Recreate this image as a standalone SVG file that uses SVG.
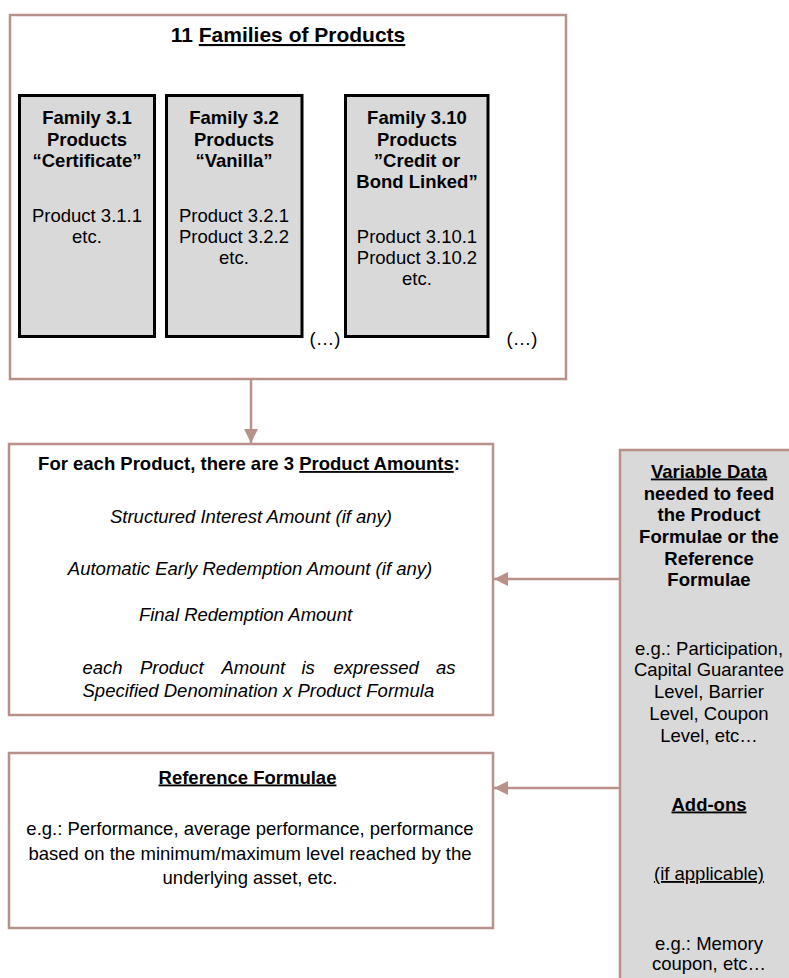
<svg xmlns="http://www.w3.org/2000/svg" width="789" height="978" viewBox="0 0 789 978">
<defs>
<style>
.box{fill:#ffffff;stroke:#b8928a;stroke-width:2.5}
.side{fill:#d9d9d9;stroke:#b8928a;stroke-width:2.5}
.fam{fill:#d9d9d9;stroke:#000000;stroke-width:3}
.conn{stroke:#b8928a;stroke-width:2.5;fill:none}
text{font-family:"Liberation Sans",Arial,sans-serif;font-size:18.5px;fill:#000000;text-anchor:middle}
.b{font-weight:bold}
.i{font-style:italic}
.t{font-size:21px;font-weight:bold}
.u{text-decoration:underline}
.l{text-anchor:start}
</style>
<marker id="ah" viewBox="0 0 10 10" refX="10" refY="5" markerWidth="14" markerHeight="14" markerUnits="userSpaceOnUse" orient="auto">
<path d="M0,0 L10,5 L0,10 z" fill="#b8928a"/>
</marker>
</defs>

<g id="families">
<rect class="box" x="10" y="15" width="556" height="364"/>
<text class="t" x="288" y="42">11 <tspan class="u">Families of Products</tspan></text>
</g>

<g id="family31">
<rect class="fam" x="19.5" y="95.5" width="135" height="241"/>
<text class="b" x="87" y="124">Family 3.1</text>
<text class="b" x="87" y="145.5">Products</text>
<text class="b" x="87" y="166.5">“Certificate”</text>
<text x="87" y="221.5">Product 3.1.1</text>
<text x="87" y="242.5">etc.</text>
</g>

<g id="family32">
<rect class="fam" x="166.5" y="95.5" width="135.5" height="241"/>
<text class="b" x="234" y="124">Family 3.2</text>
<text class="b" x="234" y="145.5">Products</text>
<text class="b" x="234" y="166.5">“Vanilla”</text>
<text x="234" y="221.5">Product 3.2.1</text>
<text x="234" y="242.5">Product 3.2.2</text>
<text x="234" y="264">etc.</text>
</g>

<g id="family310">
<rect class="fam" x="345.5" y="95.5" width="142.5" height="241"/>
<text class="b" x="417" y="124">Family 3.10</text>
<text class="b" x="417" y="145.5">Products</text>
<text class="b" x="417" y="166.5">”Credit or</text>
<text class="b" x="417" y="187.5">Bond Linked”</text>
<text x="417" y="242.5">Product 3.10.1</text>
<text x="417" y="263.5">Product 3.10.2</text>
<text x="417" y="285">etc.</text>
</g>

<g id="ellipses">
<text x="325" y="345">(…)</text>
<text x="522" y="345">(…)</text>
</g>

<g id="amounts">
<rect class="box" x="9" y="444" width="484" height="271"/>
<text class="b" x="249" y="470">For each Product, there are 3 <tspan class="u">Product Amounts</tspan>:</text>
<text class="i" x="251" y="523">Structured Interest Amount (if any)</text>
<text class="i" x="250" y="575">Automatic Early Redemption Amount (if any)</text>
<text class="i" x="245.5" y="620.5">Final Redemption Amount</text>
<text class="i l" y="674"><tspan x="82.5">each</tspan><tspan x="140">Product</tspan><tspan x="221.5">Amount</tspan><tspan x="301.5">is</tspan><tspan x="333.5">expressed</tspan><tspan x="436">as</tspan></text>
<text class="i l" x="82.5" y="697">Specified Denomination x Product Formula</text>
</g>

<g id="reference">
<rect class="box" x="9" y="753" width="484" height="175"/>
<text class="b u" x="247.5" y="783.5">Reference Formulae</text>
<text x="250" y="834.5">e.g.: Performance, average performance, performance</text>
<text x="250" y="860">based on the minimum/maximum level reached by the</text>
<text x="250" y="883.5">underlying asset, etc.</text>
</g>

<g id="variable">
<rect class="side" x="620" y="450" width="185" height="545"/>
<text class="b" x="709" y="477.5"><tspan class="u">Variable Data</tspan></text>
<text class="b" x="709" y="499.5">needed to feed</text>
<text class="b" x="709" y="521">the Product</text>
<text class="b" x="709" y="542.5">Formulae or the</text>
<text class="b" x="709" y="564.5">Reference</text>
<text class="b" x="709" y="586">Formulae</text>
<text x="709" y="654.5">e.g.: Participation,</text>
<text x="709" y="676">Capital Guarantee</text>
<text x="709" y="698">Level, Barrier</text>
<text x="709" y="720">Level, Coupon</text>
<text x="709" y="741.5">Level, etc…</text>
<text class="b u" x="709" y="810.5">Add-ons</text>
<text class="u" x="709" y="880">(if applicable)</text>
<text x="709" y="950">e.g.: Memory</text>
<text x="709" y="970">coupon, etc…</text>
</g>

<g id="connectors">
<line class="conn" x1="251" y1="379" x2="251" y2="443" marker-end="url(#ah)"/>
<line class="conn" x1="620" y1="579" x2="494" y2="579" marker-end="url(#ah)"/>
<line class="conn" x1="620" y1="788" x2="494" y2="788" marker-end="url(#ah)"/>
</g>
</svg>
